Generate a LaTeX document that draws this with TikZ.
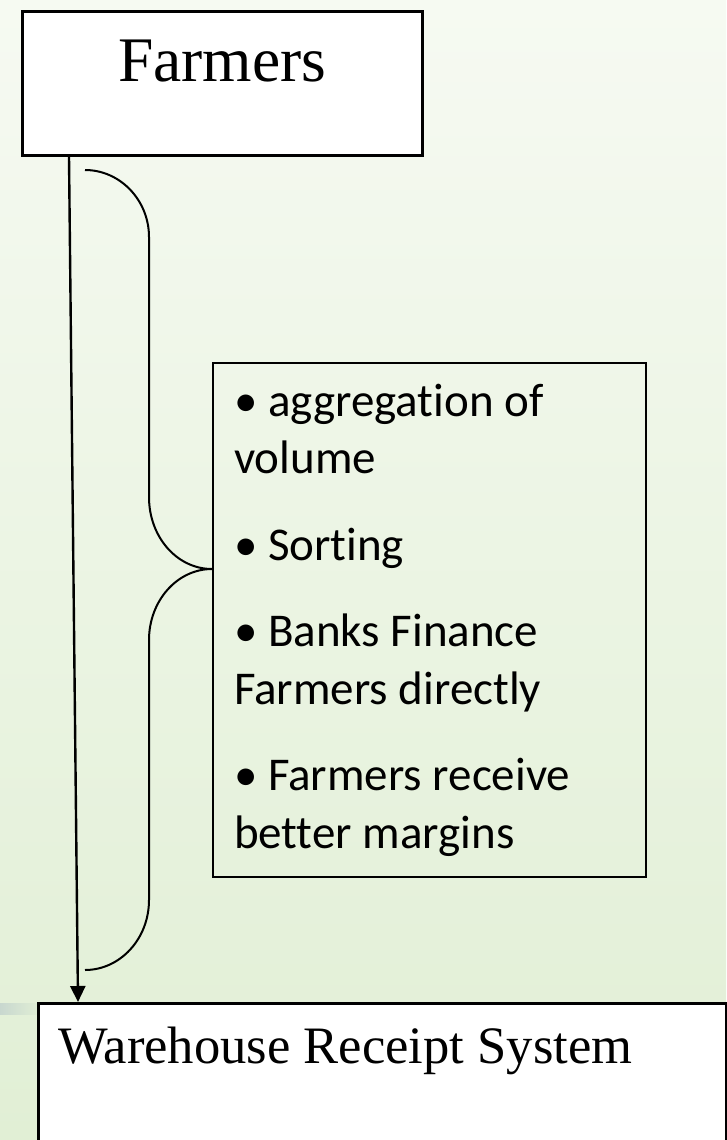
\documentclass[tikz,border=0pt]{standalone}
\usepackage{fontspec}
\setmainfont{Liberation Serif}
\newfontfamily\bodyfont{Carlito}[Ligatures=NoCommon]
\usetikzlibrary{arrows.meta}
\definecolor{bgtop}{HTML}{F6FAF2}
\definecolor{bgbottom}{HTML}{E1EFD5}
\definecolor{band}{HTML}{C8D7CF}
\begin{document}
\begin{tikzpicture}[x=1pt, y=-1pt,
  box/.style={draw, rectangle, line width=2.6pt, fill=white, inner ysep=0pt},
  >={Triangle[length=16pt, width=15pt]}]
\useasboundingbox (0,0) rectangle (726,1140);
\fill[top color=bgtop, bottom color=bgbottom] (0,0) rectangle (726,1140);
\fill[left color=band, right color=bgbottom] (0,1003) rectangle (40,1014);

\node[box, anchor=north west, inner xsep=0pt, text width=400pt, align=center,
  font=\fontsize{63.5}{70}\selectfont] (farmers) at (21,10)
  {\rule[-74pt]{0pt}{144pt}Farmers};
\node[draw, line width=2pt, anchor=north west, inner xsep=21pt, inner ysep=0pt,
  text width=391pt, align=flush left,
  font=\bodyfont\fontsize{47}{57.5}\selectfont] (benefits) at (212,362)
  {\rule{0pt}{53pt}• aggregation of\\ volume\\[29pt]
   • Sorting\\[29pt]
   • Banks Finance\\ Farmers directly\\[29pt]
   • Farmers receive\\ better margins\rule[-29pt]{0pt}{0pt}};
\node[box, anchor=north west, inner xsep=20pt, text width=648pt, align=flush left,
  font=\fontsize{52.6}{60}\selectfont] (wrs) at (37,1002)
  {\rule[-118pt]{0pt}{178pt}Warehouse Receipt System};

% brace
\draw[line width=2pt] (85,170) .. controls (120,170) and (149,200) .. (149,237)
  -- (149,497) .. controls (149,537) and (177,569) .. (212,569)
  .. controls (177,569) and (149,601) .. (149,640)
  -- (149,900) .. controls (149,939) and (120,970) .. (85,970);

\draw[->, line width=2.4pt] ([xshift=48pt]farmers.south west) -- ([xshift=41pt]wrs.north west);
\end{tikzpicture}
\end{document}
